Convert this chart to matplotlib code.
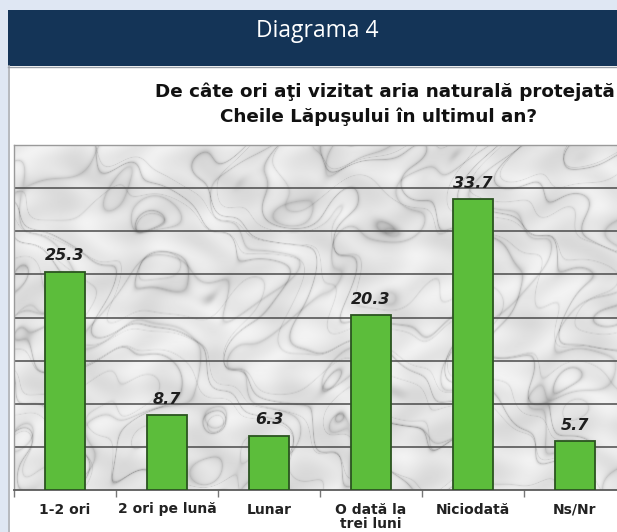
import numpy as np
import matplotlib
matplotlib.use("Agg")
import matplotlib.pyplot as plt
from matplotlib.patches import Rectangle

# ---- data ----
categories = ["1-2 ori", "2 ori pe lună", "Lunar", "O dată la\ntrei luni", "Niciodată", "Ns/Nr"]
values = [25.3, 8.7, 6.3, 20.3, 33.7, 5.7]
value_labels = ["25.3", "8.7", "6.3", "20.3", "33.7", "5.7"]
header_text = "Diagrama 4"
title_line1 = "De câte ori aţi vizitat aria naturală protejată"
title_line2 = "Cheile Lăpuşului în ultimul an?"

W, H = 617, 532
fig = plt.figure(figsize=(W / 100, H / 100), dpi=100)
fig.patch.set_facecolor("#dfe7f3")

def px(x0, y0, w, h):
    return [x0 / W, 1 - (y0 + h) / H, w / W, h / H]

# background panels
bg = fig.add_axes([0, 0, 1, 1], zorder=-5)
bg.set_xlim(0, W)
bg.set_ylim(H, 0)
bg.axis("off")
bg.add_patch(Rectangle((8, 10), W - 8, 56, facecolor="#143457", edgecolor="none"))
bg.add_patch(Rectangle((8, 66), W - 8, H - 66, facecolor="white", edgecolor="none"))
bg.plot([8.5, 8.5], [66, H], color="#a9adb3", lw=1.2)
bg.plot([8, W], [66.5, 66.5], color="#9aa0a8", lw=1.0)
bg.text(317, 37, header_text, color="white", fontsize=16.5, family="Open Sans",
        ha="center", va="baseline")
bg.text(385, 97, title_line1, color="#111111", fontsize=13.2, family="DejaVu Sans",
        fontweight="bold", ha="center", va="baseline")
bg.text(379, 122, title_line2, color="#111111", fontsize=13.2, family="DejaVu Sans",
        fontweight="bold", ha="center", va="baseline")

# chart axes
ax = fig.add_axes(px(14, 145, 612, 345))
n = len(categories)
x = np.arange(n)
ax.set_xlim(-0.5, n - 0.5)
ax.set_ylim(0, 40)

# soft marble-like texture (deterministic, decorative only)
ny, nx = 345, 612
yy, xx = np.mgrid[0:ny, 0:nx].astype(float)
warp = (np.sin(xx / 41.0 + 1.7 * np.sin(yy / 29.0)) + 0.7 * np.sin(yy / 23.0 - 1.3 * np.sin(xx / 31.0))
        + 0.4 * np.sin((xx + yy) / 13.0 + np.sin(xx / 17.0)))
blot = np.sin(xx / 19.0 + 1.2 * np.sin(yy / 11.0)) * np.sin(yy / 15.0 + 1.4 * np.sin(xx / 21.0))
v1 = np.abs(np.sin((xx - 0.8 * yy) / 28.0 + 1.6 * warp))
v2 = np.abs(np.sin((xx + 0.5 * yy) / 47.0 + 1.2 * warp + 1.0))
v3 = np.abs(np.sin((0.6 * xx - yy) / 17.0 + 2.0 * warp))
tex = (0.90 + 0.05 * blot
       - 0.18 * np.exp(-v1 * 12.0)
       - 0.13 * np.exp(-v2 * 10.0)
       - 0.09 * np.exp(-v3 * 16.0))
ax.imshow(tex, cmap="gray", vmin=0, vmax=1, extent=[-0.5, n - 0.5, 0, 40],
          aspect="auto", zorder=0, interpolation="bilinear")

ax.set_yticks(np.arange(0, 41, 5))
for yv in np.arange(5, 40, 5):
    ax.axhline(yv, color="#4a4a4a", lw=1.1, zorder=1)
ax.tick_params(axis="y", left=False, labelleft=False)

ax.bar(x, values, width=0.4, color="#5cbd3b", edgecolor="#2b5420", linewidth=1.3, zorder=3)
for xi, v, lab in zip(x, values, value_labels):
    ax.annotate(lab, (xi, v), xytext=(0, 6), textcoords="offset points",
                ha="center", va="bottom", fontsize=11.5, fontweight="bold",
                fontstyle="italic", family="DejaVu Sans", color="#1e1e1e", zorder=4)

ax.set_xticks(x)
ax.set_xticklabels(categories, fontsize=10, fontweight="bold", family="DejaVu Sans",
                   color="#222222", linespacing=1.05)
ax.set_xticks(np.arange(-0.5, n, 1.0), minor=True)
ax.tick_params(axis="x", which="major", length=0, pad=9)
ax.tick_params(axis="x", which="minor", length=5, color="#777777", width=1)

for s in ["left", "top", "right"]:
    ax.spines[s].set_color("#9a9a9a")
    ax.spines[s].set_linewidth(1.0)
ax.spines["bottom"].set_color("#5a5a5a")
ax.spines["bottom"].set_linewidth(1.3)

fig.savefig("out.png", dpi=100, facecolor=fig.get_facecolor())
